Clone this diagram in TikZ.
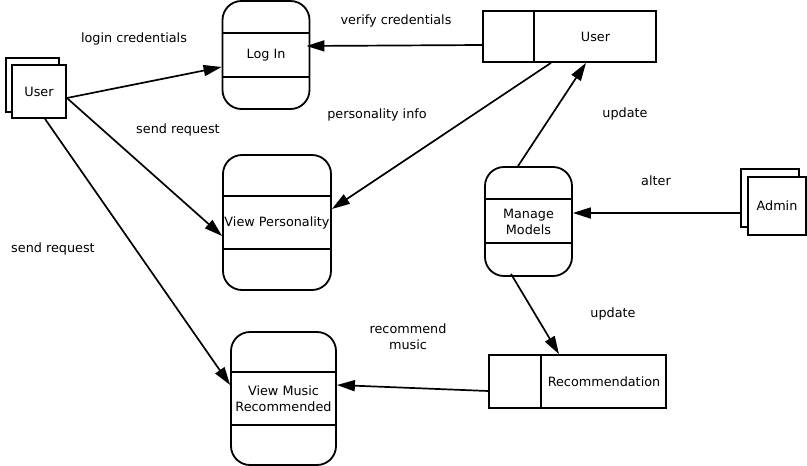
\documentclass[tikz,border=0pt]{standalone}
\usepackage{fontspec}
\setmainfont{DejaVu Sans}
\usetikzlibrary{arrows.meta,calc}
\tikzset{
  base/.style={font=\fontsize{12.8}{16}\selectfont},
  proc/.style={base,draw,line width=1.8pt,rounded corners=19pt,inner sep=0pt,align=center},
  ent/.style={base,draw,line width=1.8pt,fill=white,inner sep=0pt},
  store/.style={draw,line width=1.7pt,inner sep=0pt},
  lbl/.style={base,inner sep=0pt,align=center},
  flow/.style={line width=1.7pt,-{Triangle[length=18pt,width=11pt]}},
  divider/.style={line width=1.8pt}
}
\begin{document}
\begin{tikzpicture}[x=1pt,y=-1pt]
\useasboundingbox (0,0) rectangle (807,466);
% external entity User
\node[ent,minimum width=53pt,minimum height=54pt] (uback) at (32.5,85) {};
\node[ent,minimum width=54pt,minimum height=53pt] (uent) at (39,91.5) {User};
% external entity Admin
\node[ent,minimum width=58pt,minimum height=58pt] (aback) at (770,198) {};
\node[ent,minimum width=58pt,minimum height=58pt] (aent) at (777,206) {Admin};
% processes
\node[proc,minimum width=87pt,minimum height=108pt] (login) at (266,55) {Log In};
\draw[divider] ($(login.west)+(0,-22)$) -- ($(login.east)+(0,-22)$);
\draw[divider] ($(login.west)+(0,22)$) -- ($(login.east)+(0,22)$);
\node[proc,minimum width=108pt,minimum height=135pt] (vp) at (277,222.5) {View Personality};
\draw[divider] ($(vp.west)+(0,-26.5)$) -- ($(vp.east)+(0,-26.5)$);
\draw[divider] ($(vp.west)+(0,26.5)$) -- ($(vp.east)+(0,26.5)$);
\node[proc,minimum width=87pt,minimum height=109pt] (mm) at (528.5,221.5) {Manage\\Models};
\draw[divider] ($(mm.west)+(0,-22.5)$) -- ($(mm.east)+(0,-22.5)$);
\draw[divider] ($(mm.west)+(0,21.5)$) -- ($(mm.east)+(0,21.5)$);
\node[proc,minimum width=105pt,minimum height=133pt] (vmr) at (283.5,398.5) {View Music\\Recommended};
\draw[divider] ($(vmr.west)+(0,-26.5)$) -- ($(vmr.east)+(0,-26.5)$);
\draw[divider] ($(vmr.west)+(0,26.5)$) -- ($(vmr.east)+(0,26.5)$);
% data stores
\node[store,minimum width=173pt,minimum height=51pt] (ustore) at (569.5,36.5) {};
\draw[divider] ($(ustore.north west)+(52,0)$) coordinate (ud1) -- ($(ustore.south west)+(52,0)$) coordinate (ud2);
\node[base] (ustoretxt) at (595.5,37) {User};
\node[store,minimum width=177pt,minimum height=53pt] (rstore) at (577.5,381.5) {};
\draw[divider] ($(rstore.north west)+(53,0)$) coordinate (rd1) -- ($(rstore.south west)+(53,0)$) coordinate (rd2);
\node[base] (rstoretxt) at (604,382) {Recommendation};
% flows
\draw[flow] ($(uent.east)+(0,6.5)$) -- ($(login.west)+(0,12)$);
\draw[flow] ($(uent.east)+(0,6.5)$) -- ($(vp.west)+(0,13.5)$);
\draw[flow] ($(uent.south)+(6,0)$) -- ($(vmr.west)+(0,-13.5)$);
\draw[flow] ($(ustore.west)+(0,8.5)$) -- ($(login.east)+(-4,-9)$);
\draw[flow] ($(ustore.south)+(-18.5,0)$) -- ($(vp.east)+(0,-13.5)$);
\draw[flow] ($(mm.north)+(-10.5,0)$) -- ($(ustore.south)+(16.5,0)$);
\draw[flow] ($(aback.west)+(0,15)$) -- ($(mm.east)+(0,-8.5)$);
\draw[flow] ($(mm.south)+(-17.5,-3)$) -- ($(rstore.north)+(-18.5,0)$);
\draw[flow] ($(rstore.west)+(0,9.5)$) -- ($(vmr.east)+(0,-13.5)$);
% labels
\node[lbl] (l1) at (134,39) {login credentials};
\node[lbl] (l2) at (178,130) {send request};
\node[lbl] (l3) at (53,249) {send request};
\node[lbl] (l4) at (396,21) {verify credentials};
\node[lbl] (l5) at (377,115) {personality info};
\node[lbl] (l6) at (625,114) {update};
\node[lbl] (l7) at (656,181) {alter};
\node[lbl] (l8) at (613,314) {update};
\node[lbl] (l9) at (408,337) {recommend\\music};
\end{tikzpicture}
\end{document}
